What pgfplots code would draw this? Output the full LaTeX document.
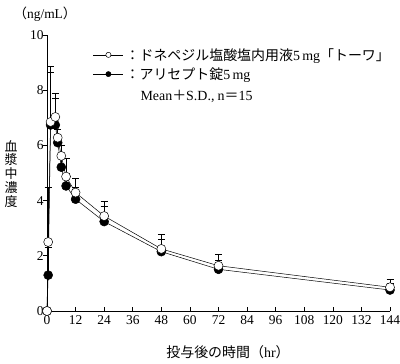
\documentclass[border=0pt]{standalone}
\usepackage{pgfplots}
\pgfplotsset{compat=1.18}
\usepackage{pgfplotstable}
\usepackage{fontspec}
\setmainfont{Liberation Serif}
\newfontfamily\cjk{Noto Sans CJK JP}

\pgfplotstableread{
t    c     e
0    0     0
0.5  2.5   2.0
1.5  6.85  2.01
3.5  7.03  0.86
4.5  6.28  0.32
6    5.62  0.38
8    4.87  0.66
12   4.29  0.51
24   3.44  0.52
48   2.25  0.54
72   1.64  0.41
144  0.86  0.29
}\towa
\pgfplotstableread{
t    c     e
0    0     0
0.5  1.3   1.0
1.5  6.74  1.91
3.5  6.74  0.96
4.5  6.10  0.30
6    5.21  0.45
8    4.53  0.47
12   4.05  0.45
24   3.24  0.54
48   2.15  0.45
72   1.51  0.34
144  0.76  0.24
}\aricept

\begin{document}
\begin{tikzpicture}
\begin{axis}[
  scale only axis, width=343bp, height=276bp,
  xmin=0, xmax=144, ymin=0, ymax=10,
  axis lines=left, axis line style={-, black, line width=0.6bp},
  xtick={0,12,...,144}, ytick={0,2,...,10},
  tick align=inside, major tick length=4bp,
  tick style={black, line width=0.6bp},
  ytick style={xshift=-4bp},
  clip=false,
  /pgf/number format/assume math mode=true,
  ticklabel style={font=\fontsize{13.5}{15}\selectfont},
  xticklabel style={yshift=-1bp},
  legend cell align=left,
  reverse legend,
  legend style={at={(rel axis cs:0.134,0.96)}, anchor=north west, draw=none, fill=none,
    font=\fontsize{14}{16}\selectfont, row sep=2bp, inner sep=0pt,
    /tikz/every even column/.append style={column sep=0bp}},
  legend image code/.code={\draw[mark repeat=2,mark phase=2,mark size=2.6bp] plot coordinates {(0bp,0bp) (15bp,0bp) (30bp,0bp)};},
]
\addplot[black, line width=0.5bp, mark=*, mark size=4.5bp, mark options={fill=black, solid},
  error bars/.cd, y dir=plus, y explicit, error bar style={black, line width=0.5bp},
  error mark options={black, line width=0.5bp, rotate=90, mark size=3.5bp}]
  table[x=t, y=c, y error=e] {\aricept};
\addlegendentry{{\cjk ：アリセプト錠}5\,mg}
\addplot[black, line width=0.5bp, mark=*, mark size=4.5bp, mark options={fill=white, solid},
  error bars/.cd, y dir=plus, y explicit, error bar style={black, line width=0.5bp},
  error mark options={black, line width=0.5bp, rotate=90, mark size=3.5bp}]
  table[x=t, y=c, y error=e] {\towa};
\addlegendentry{{\cjk ：ドネペジル塩酸塩内用液}5\,mg{\cjk 「トーワ」}}
\end{axis}
\node[anchor=west, font=\fontsize{14}{16}\selectfont] at (90bp,215bp) {Mean{\cjk ＋}S.D.,{\cjk \ }n{\cjk ＝}15};
\node[font=\fontsize{13.5}{15}\selectfont] at (-2bp,297bp) {{\cjk （}ng/mL{\cjk ）}};
\node[align=center, font=\cjk\fontsize{13}{14}\selectfont] at (-36bp,137bp) {血\\漿\\中\\濃\\度};
\node[font=\fontsize{14}{16}\selectfont] at (181bp,-41bp) {{\cjk 投与後の時間（}hr{\cjk ）}};
\pgfresetboundingbox
\path[use as bounding box] (-47bp,-53bp) rectangle (353bp,311bp);
\end{tikzpicture}
\end{document}
